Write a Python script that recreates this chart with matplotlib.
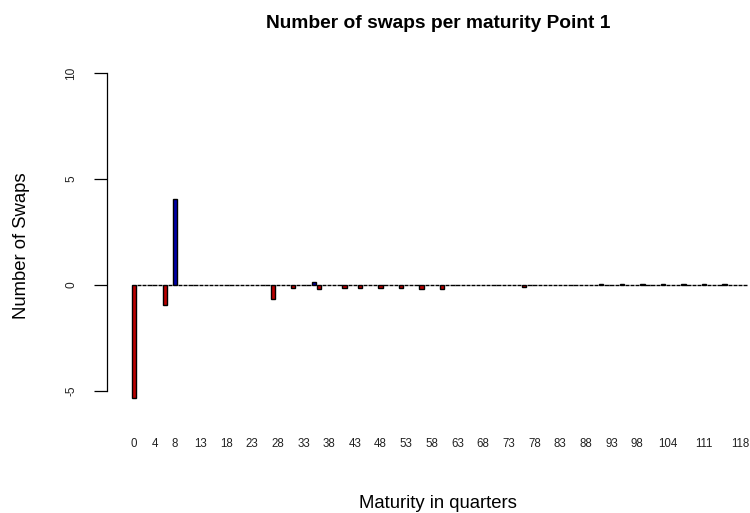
import numpy as np
import matplotlib.pyplot as plt

plt.rcParams['font.family'] = ['Liberation Sans', 'DejaVu Sans']

# maturity buckets (quarters) and net number of swaps per bucket
maturities = list(range(120))
swaps = [
    -5.33, 0, 0, 0, 0, 0, -0.94, 0, 4.08, 0,
    0, 0, 0, 0, 0, 0, 0, 0, 0, 0,
    0, 0, 0, 0, 0, 0, 0, -0.66, 0, 0,
    0, -0.16, 0, 0, 0, 0.15, -0.2, 0, 0, 0,
    0, -0.12, 0, 0, -0.12, 0, 0, 0, -0.15, 0,
    0, 0, -0.15, 0, 0, 0, -0.18, 0, 0, 0,
    -0.18, 0, 0, 0, 0, 0, 0, 0, 0, 0,
    0, 0, 0, 0, 0, 0, -0.08, 0, 0, 0,
    0, 0, 0, 0, 0, 0, 0, 0, 0, 0,
    0, 0.06, 0, 0, 0, 0.06, 0, 0, 0, 0.06,
    0, 0, 0, 0.06, 0, 0, 0, 0.06, 0, 0,
    0, 0.06, 0, 0, 0, 0.06, 0, 0, 0, 0,
]
# names that R could fit under the bars
shown_labels = [0, 4, 8, 13, 18, 23, 28, 33, 38, 43, 48, 53, 58, 63, 68,
                73, 78, 83, 88, 93, 98, 104, 111, 118]
y_ticks = [-5, 0, 5, 10]

W, H = 750, 513
fig = plt.figure(figsize=(W / 100, H / 100), dpi=100)

# plot region in pixels (top-left origin)
left, right, top, bottom = 107, 750, 59, 420
ax = fig.add_axes([left / W, 1 - bottom / H, (right - left) / W, (bottom - top) / H])

centers = 0.7 + 1.2 * np.arange(len(maturities))
colors = ['#bb0000' if v < 0 else '#0000a8' for v in swaps]
ax.bar(centers, swaps, width=1.0, color=colors, edgecolor='black', linewidth=1.0)

# same scale as the reference: 5.135 px per bar, 21.2 px per swap
ppu = 5.135 / 1.2
ax.set_xlim(0.7 - (134 - left) / ppu, 0.7 + (right - 134) / ppu)
ax.set_ylim(-(bottom - 285) / 21.2, (285 - top) / 21.2)

for s in ['top', 'right', 'bottom']:
    ax.spines[s].set_visible(False)
ax.spines['left'].set_bounds(-5, 10)
ax.spines['left'].set_linewidth(0.9)

ax.set_yticks(y_ticks)
ax.set_yticklabels([str(t) for t in y_ticks], rotation=90, va='center')
ax.tick_params(axis='y', length=9.4, width=0.9, pad=12, labelsize=8.6,
               labelcolor='#222222')

ax.set_xticks([centers[m] for m in shown_labels])
ax.set_xticklabels([str(m) for m in shown_labels])
ax.tick_params(axis='x', length=0, pad=13, labelsize=8.3, labelcolor='#222222')

fig.text(438 / W, 1 - 28.3 / H, 'Number of swaps per maturity Point 1',
         ha='center', va='baseline', fontsize=13.8, fontweight='bold')
fig.text(438 / W, 1 - 507.5 / H, 'Maturity in quarters',
         ha='center', va='baseline', fontsize=13.3)
fig.text(22 / W, 1 - 246 / H, 'Number of Swaps',
         ha='center', va='center', rotation=90, fontsize=13.3)

fig.savefig('out.png', dpi=100)
